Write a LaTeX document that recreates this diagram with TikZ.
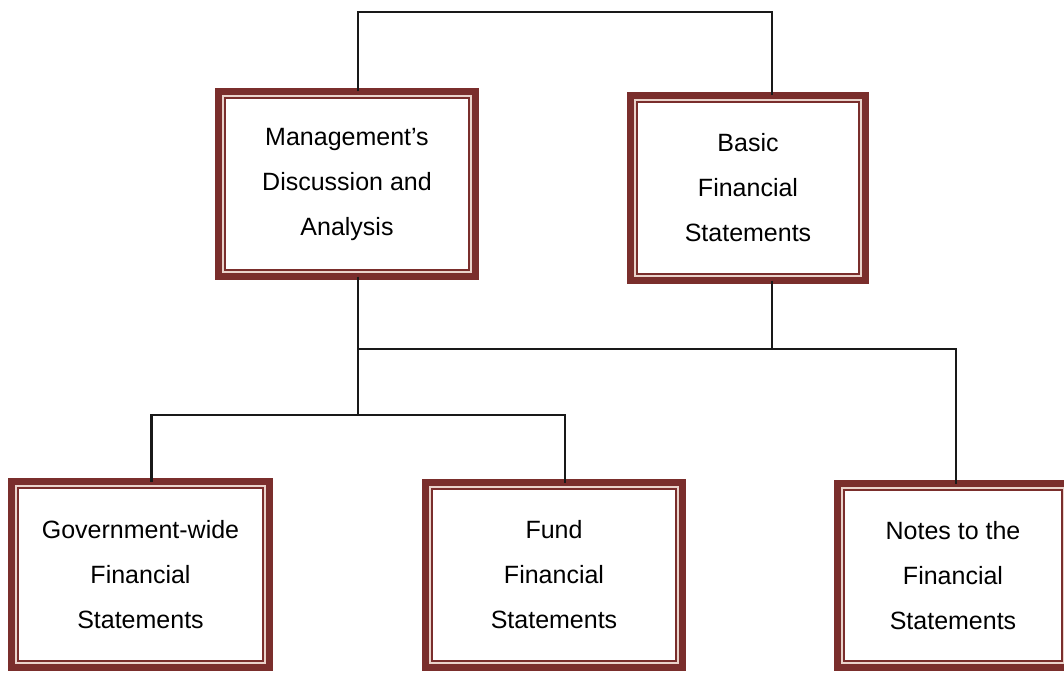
\documentclass[tikz,border=0pt]{standalone}
\usepackage{fontspec}
\setmainfont{Liberation Sans}
\definecolor{frame}{HTML}{7A2E2C}
\definecolor{framelight}{HTML}{EAD3CB}
\begin{document}
\begin{tikzpicture}[x=1pt,y=1pt,
  panel/.style={draw=frame, line width=7pt, fill=white, outer sep=0pt, inner sep=0pt,
    align=center, font=\fontsize{25}{45}\selectfont,
    path picture={
      \draw[framelight, line width=2pt]
        ([shift={(4.5pt,4.5pt)}]path picture bounding box.south west) rectangle
        ([shift={(-4.5pt,-4.5pt)}]path picture bounding box.north east);
      \draw[frame, line width=2pt]
        ([shift={(6.5pt,6.5pt)}]path picture bounding box.south west) rectangle
        ([shift={(-6.5pt,-6.5pt)}]path picture bounding box.north east);
    }},
  link/.style={line width=2.5pt, black!90}]
\useasboundingbox[fill=white] (0,0) rectangle (1064,673);

% statement boxes
\node[panel, minimum width=257, minimum height=185] (mda) at (347,489)
  {Management's\\Discussion and\\Analysis};
\node[panel, minimum width=235, minimum height=185] (bfs) at (748,485)
  {Basic\\Financial\\Statements};
\node[panel, minimum width=258, minimum height=186] (gov) at (140.5,98.5)
  {Government-wide\\Financial\\Statements};
\node[panel, minimum width=257, minimum height=185] (fund) at (554,98)
  {Fund\\Financial\\Statements};
\node[panel, minimum width=231, minimum height=184] (notes) at (953,97.5)
  {Notes to the\\Financial\\Statements};

% connector ports and bar levels
\path ([xshift=11pt]mda.north) coordinate (mdaT)
      ([xshift=11pt]mda.south) coordinate (mdaB)
      ([xshift=24pt]bfs.north) coordinate (bfsT)
      ([xshift=24pt]bfs.south) coordinate (bfsB)
      ([xshift=11pt]gov.north) coordinate (govT)
      ([xshift=11pt]fund.north) coordinate (fundT)
      ([xshift=3pt]notes.north) coordinate (notesT);
\coordinate (bar1) at (0,661);
\coordinate (bar2) at (0,324);
\coordinate (bar3) at (0,258);

% connectors
\draw[link] (mdaT) -- (mdaT |- bar1) -| (bfsT);
\draw[link] (mdaB) -- (mdaB |- bar3);
\draw[link] (bfsB) -- (bfsB |- bar2);
\draw[link] (mdaB |- bar2) -| (notesT);
\draw[link] (govT) |- (fundT |- bar3) -- (fundT);
\end{tikzpicture}
\end{document}
